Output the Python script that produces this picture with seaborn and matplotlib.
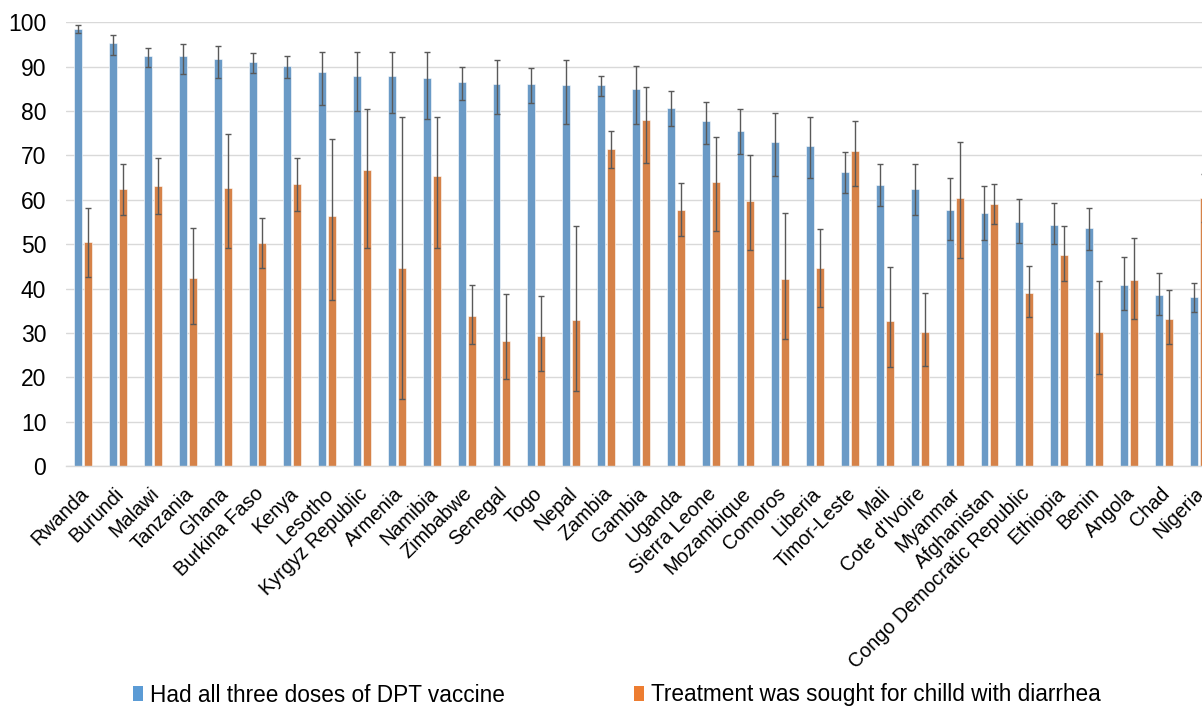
import matplotlib
matplotlib.use("Agg")
import matplotlib.pyplot as plt
import matplotlib.transforms as mtransforms
import seaborn as sns
import pandas as pd
import numpy as np
from matplotlib.patches import Patch

countries = ["Rwanda", "Burundi", "Malawi", "Tanzania", "Ghana", "Burkina Faso", "Kenya",
             "Lesotho", "Kyrgyz Republic", "Armenia", "Namibia", "Zimbabwe", "Senegal", "Togo",
             "Nepal", "Zambia", "Gambia", "Uganda", "Sierra Leone", "Mozambique", "Comoros",
             "Liberia", "Timor-Leste", "Mali", "Cote d'Ivoire", "Myanmar", "Afghanistan",
             "Congo Democratic Republic", "Ethiopia", "Benin", "Angola", "Chad", "Nigeria"]

dpt = [98.6, 95.3, 92.4, 92.4, 91.7, 91.0, 90.2, 88.7, 88.0, 88.0, 87.5, 86.6, 86.2, 86.0,
       85.8, 85.8, 84.9, 80.7, 77.7, 75.6, 73.1, 72.2, 66.3, 63.4, 62.4, 57.8, 57.0, 55.1,
       54.3, 53.6, 40.9, 38.5, 38.0]
dpt_hi = [99.5, 97.2, 94.2, 95.2, 94.7, 93.1, 92.3, 93.3, 93.3, 93.3, 93.3, 89.9, 91.4, 89.6,
          91.6, 87.9, 90.2, 84.6, 82.1, 80.4, 79.6, 78.7, 70.8, 68.1, 68.1, 64.8, 63.0, 60.1,
          59.2, 58.2, 47.0, 43.6, 41.3]
dpt_lo = [97.7, 92.6, 89.9, 88.3, 87.5, 88.5, 87.5, 81.4, 79.9, 79.5, 78.3, 82.4, 79.4, 81.7,
          77.0, 83.3, 77.0, 76.6, 72.6, 70.4, 65.3, 64.8, 61.5, 58.7, 56.5, 50.9, 50.9, 50.2,
          50.0, 48.7, 35.1, 34.1, 34.8]

diarrhea = [50.4, 62.4, 63.2, 42.4, 62.6, 50.2, 63.6, 56.3, 66.6, 44.6, 65.3, 33.9, 28.2, 29.2,
            32.8, 71.4, 78.0, 57.8, 64.1, 59.7, 42.1, 44.6, 70.9, 32.6, 30.2, 60.4, 59.1, 39.0,
            47.5, 30.2, 41.9, 33.1, 60.5]
diarrhea_hi = [58.2, 68.1, 69.4, 53.7, 74.8, 56.0, 69.4, 73.6, 80.4, 78.7, 78.7, 40.9, 38.7, 38.4,
               54.2, 75.5, 85.5, 63.8, 74.2, 70.1, 57.0, 53.5, 77.7, 44.8, 39.1, 73.1, 63.6, 45.1,
               54.0, 41.8, 51.3, 39.7, 65.8]
diarrhea_lo = [42.6, 56.5, 56.7, 31.9, 49.2, 44.6, 57.5, 37.5, 49.2, 15.1, 49.2, 27.6, 19.6, 21.4,
               16.8, 67.2, 68.2, 51.8, 52.9, 48.7, 28.7, 35.8, 63.0, 22.4, 22.6, 46.8, 54.5, 33.5,
               41.6, 20.7, 33.1, 27.4, 55.1]

series_names = ["Had all three doses of DPT vaccine", "Treatment was sought for chilld with diarrhea"]
colors = ["#5B9BD5", "#ED7D31"]

df = pd.DataFrame({
    "country": countries * 2,
    "value": dpt + diarrhea,
    "series": [series_names[0]] * len(countries) + [series_names[1]] * len(countries),
})

sns.set_style("white")
plt.rcParams["font.family"] = ["Liberation Sans", "DejaVu Sans"]
plt.rcParams["text.color"] = "#000000"

W, H = 1202, 709
fig = plt.figure(figsize=(W / 100, H / 100), dpi=100)
left_px, right_px, top_px, bot_px = 65.8, 1216.0, 22.3, 466.0
ax = fig.add_axes([left_px / W, 1 - bot_px / H, (right_px - left_px) / W, (bot_px - top_px) / H])

sns.barplot(data=df, x="country", y="value", hue="series", palette=colors,
            width=0.57, gap=0.2, errorbar=None, ax=ax, legend=False,
            edgecolor="#FFFFFF", linewidth=0.4, zorder=2)

vals = [(dpt, dpt_lo, dpt_hi), (diarrhea, diarrhea_lo, diarrhea_hi)]
for cont, (v, lo, hi) in zip(ax.containers, vals):
    xs = [p.get_x() + p.get_width() / 2 for p in cont.patches]
    v = np.array(v); lo = np.array(lo); hi = np.array(hi)
    ax.errorbar(xs, v, yerr=[v - lo, hi - v], fmt="none", ecolor="#595959",
                elinewidth=1.0, capsize=2.5, capthick=1.0, zorder=3)

ax.set_xlim(-0.5, len(countries) - 0.5)
ax.set_ylim(0, 100)
ax.set_yticks(range(0, 101, 10))
ax.yaxis.grid(True, color="#D9D9D9", linewidth=1.0, zorder=0)
ax.set_axisbelow(True)
for s in ["top", "right", "left"]:
    ax.spines[s].set_visible(False)
ax.spines["bottom"].set_color("#D9D9D9")
ax.spines["bottom"].set_linewidth(1.0)
ax.set_xlabel("")
ax.set_ylabel("")
ax.tick_params(axis="y", length=0, pad=14, labelsize=16.5, labelcolor="#000000")
ax.tick_params(axis="x", length=0, pad=13, labelsize=14.2, labelcolor="#000000")
shift = mtransforms.ScaledTranslation(-4 / 100, 0, fig.dpi_scale_trans)
for lbl in ax.get_xticklabels():
    lbl.set_rotation(45)
    lbl.set_ha("right")
    lbl.set_rotation_mode("anchor")
    lbl.set_transform(lbl.get_transform() + shift)

handles = [Patch(facecolor=c, edgecolor="none") for c in colors]
fig.legend(handles, series_names, loc="center left", bbox_to_anchor=(133 / W, 1 - 695 / H),
           ncol=2, frameon=False, fontsize=16.3, handlelength=0.45, handleheight=0.6,
           handletextpad=0.3, columnspacing=5.7, borderpad=0, borderaxespad=0,
           labelcolor="#000000")

fig.savefig("out.png", dpi=100)
